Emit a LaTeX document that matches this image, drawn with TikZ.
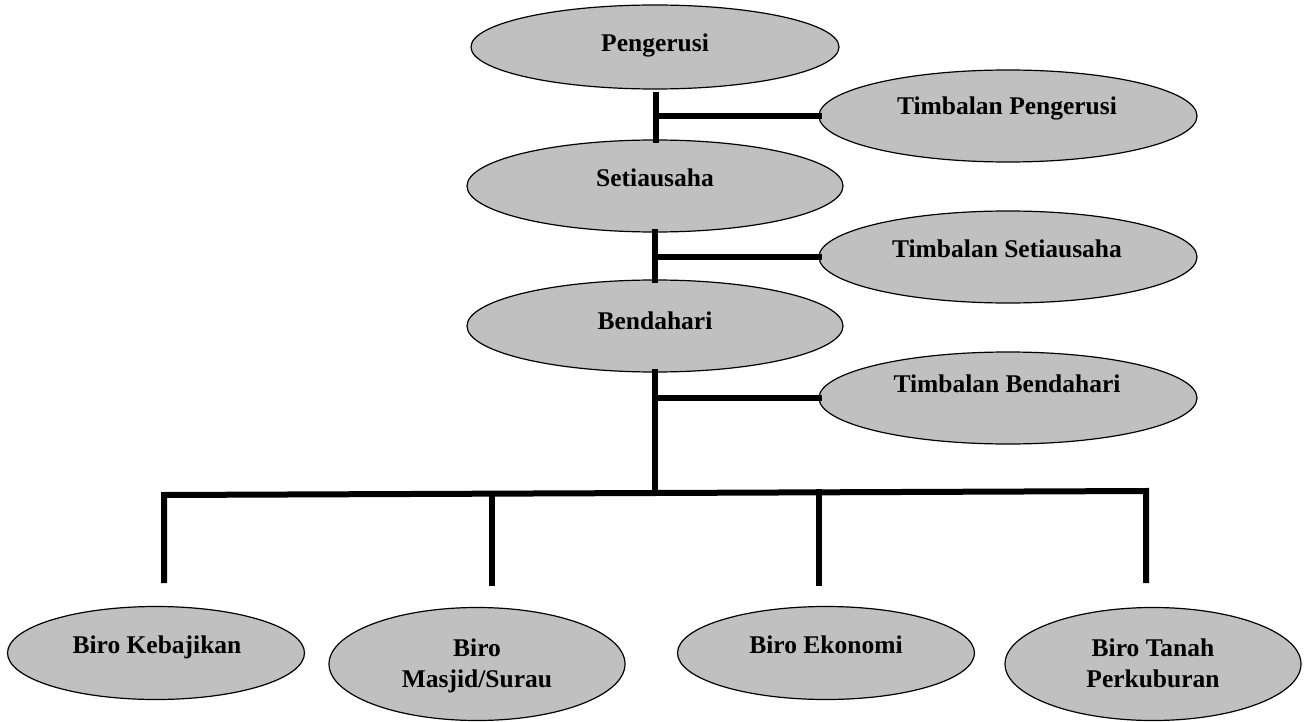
\documentclass[tikz,border=0pt]{standalone}
\usepackage{fontspec}
\setmainfont{Liberation Serif}
\usetikzlibrary{shapes.geometric,calc}
\definecolor{ellgray}{HTML}{C0C0C0}
\begin{document}
\begin{tikzpicture}[x=1pt,y=-1pt,
  ell/.style={ellipse, draw=black, line width=1.2pt, fill=ellgray, inner sep=0pt, outer sep=0pt},
  big/.style={minimum width=378pt, minimum height=92pt},
  bot/.style={minimum width=297pt, minimum height=93pt},
  tall/.style={minimum width=296pt, minimum height=113pt},
  lbl/.style={anchor=base, font=\fontsize{25.5}{31}\selectfont\bfseries, inner sep=0pt, align=center},
  conn/.style={line width=6pt, line cap=rect}]
\useasboundingbox (0,0) rectangle (1306,722);
% top chain
\node[ell, minimum width=368pt, minimum height=84pt] (P) at (655,47) {};
\node[ell, minimum width=376pt, minimum height=92pt] (S) at (655,186) {};
\node[ell, minimum width=376pt, minimum height=92pt] (B) at (655,326) {};
\node[ell, big] (TP) at (1008,116) {};
\node[ell, big] (TS) at (1008,257) {};
\node[ell, big] (TB) at (1008,398) {};
% bottom
\node[ell, bot] (K) at (156,653) {};
\node[ell, tall] (M) at (477,664) {};
\node[ell, bot] (E) at (826,653) {};
\node[ell, tall] (T) at (1153,664) {};
% labels
\node[lbl] (tP) at (655,52) {Pengerusi};
\node[lbl] (tS) at (655,186) {Setiausaha};
\node[lbl] (tB) at (655,329) {Bendahari};
\node[lbl] (tTP) at (1007,115) {Timbalan Pengerusi};
\node[lbl] (tTS) at (1007,257) {Timbalan Setiausaha};
\node[lbl] (tTB) at (1007,392) {Timbalan Bendahari};
\node[lbl] (tK) at (157,653) {Biro Kebajikan};
\node[lbl] (tM) at (477,687) {Biro\\Masjid/Surau};
\node[lbl] (tE) at (826,653) {Biro Ekonomi};
\node[lbl] (tT) at (1153,687) {Biro Tanah\\Perkuburan};
% connectors
\coordinate (p0) at ($(P.south)+(1,6)$);
\draw[conn] (p0) -- (p0 |- S.north);
\draw[conn] (p0 |- TP.west) -- (TP.west);
\draw[conn] (S.south) -- (S.south |- B.north);
\draw[conn] (S.south |- TS.west) -- (TS.west);
\coordinate (b1) at (164,495);
\coordinate (b2) at (492,494);
\coordinate (b3) at (819,492);
\coordinate (b4) at (1146,491);
\coordinate (k1) at (164,583);
\coordinate (k2) at (492,583);
\coordinate (k3) at (819,583);
\coordinate (k4) at (1146,583);
\draw[conn] (B.south) -- (B.south |- b3);
\draw[conn] (B.south |- TB.west) -- (TB.west);
\draw[conn, line cap=butt, line join=miter] (k1) -- (b1) -- (b4) -- (k4);
\draw[conn] (b2) -- (k2);
\draw[conn] (b3) -- (k3);
\end{tikzpicture}
\end{document}
